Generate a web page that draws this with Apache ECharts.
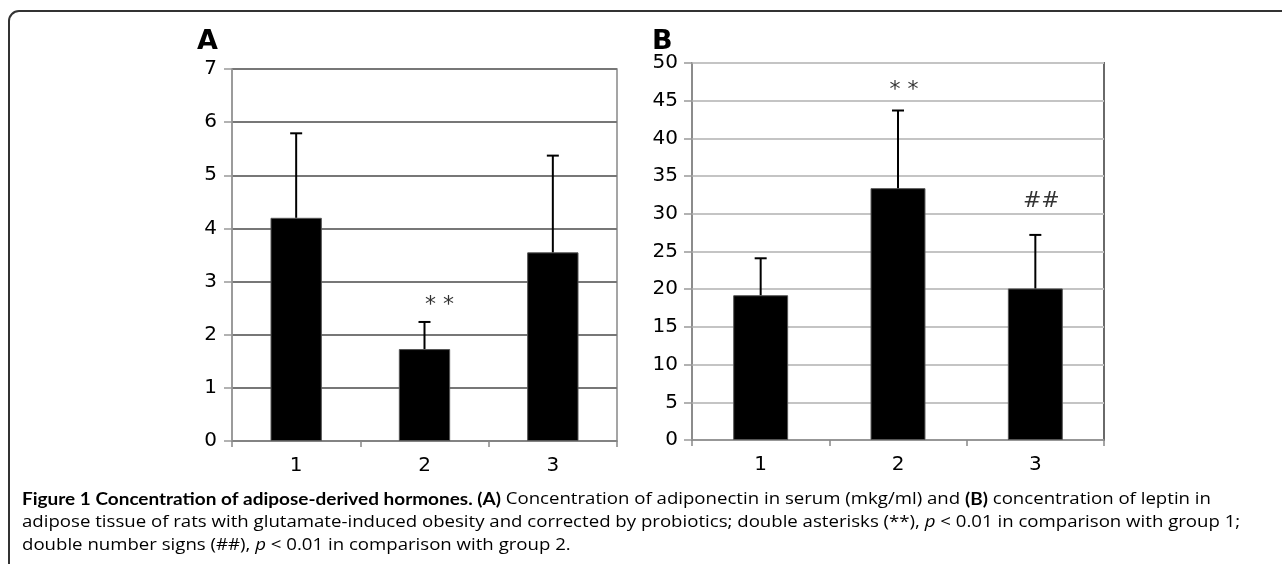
<!DOCTYPE html>
<html>
<head>
<meta charset="utf-8">
<script src="https://cdn.jsdelivr.net/npm/echarts@6/dist/echarts.min.js"></script>
<style>
  html, body { margin: 0; padding: 0; background: #fff; }
  #chart { width: 1282px; height: 564px; }
</style>
</head>
<body>
<div id="chart"></div>
<script>
// groups on the x axis
var groups = ['1', '2', '3'];

// panel A: adiponectin in serum (mkg/ml)
var meanA = [4.2, 1.73, 3.55];
var sdA = [1.59, 0.51, 1.82];
var ticksA = { min: 0, max: 7, interval: 1 };
var markTextA = ['', '* *', ''];
var markPosA = [null, 2.56, null];

// panel B: leptin in adipose tissue
var meanB = [19.2, 33.4, 20.1];
var sdB = [4.9, 10.3, 7.1];
var ticksB = { min: 0, max: 50, interval: 5 };
var markTextB = ['', '* *', '##'];
var markPosB = [null, 46.4, 31.6];

var tickFont = 'DejaVu Sans';
var chart = echarts.init(document.getElementById('chart'), null, { renderer: 'canvas' });

// upper error bar only, with a short cap
function errorSeries(idx, means, sds) {
  return {
    type: 'custom',
    xAxisIndex: idx, yAxisIndex: idx,
    z: 5,
    data: means.map(function (m, i) { return [i, m, m + sds[i]]; }),
    renderItem: function (params, api) {
      var lo = api.coord([api.value(0), api.value(1)]);
      var hi = api.coord([api.value(0), api.value(2)]);
      var cap = 6;
      var st = { stroke: '#000', lineWidth: 2 };
      return {
        type: 'group',
        children: [
          { type: 'line', shape: { x1: lo[0], y1: lo[1], x2: hi[0], y2: hi[1] }, style: st },
          { type: 'line', shape: { x1: hi[0] - cap, y1: hi[1], x2: hi[0] + cap, y2: hi[1] }, style: st }
        ]
      };
    }
  };
}

function markSeries(idx, texts, pos, dx) {
  return {
    type: 'scatter',
    xAxisIndex: idx, yAxisIndex: idx,
    symbolSize: 1,
    itemStyle: { color: 'rgba(0,0,0,0)' },
    silent: true,
    data: pos.map(function (p, i) { return p == null ? null : [i, p, texts[i]]; }).filter(function (d) { return d; }),
    label: {
      show: true, position: 'inside', offset: [dx, 0],
      formatter: function (p) { return p.value[2]; },
      color: '#000', fontFamily: tickFont, fontSize: 22
    }
  };
}

function xAxis(idx) {
  return {
    type: 'category', gridIndex: idx, data: groups,
    axisLine: { lineStyle: { color: '#888', width: 1.5 } },
    axisTick: { show: true, alignWithLabel: false, length: 6, lineStyle: { color: '#888', width: 1.5 } },
    axisLabel: { color: '#000', fontFamily: tickFont, fontSize: 20, margin: 15 }
  };
}

function yAxis(idx, t, gridColor, margin) {
  return {
    type: 'value', gridIndex: idx, min: t.min, max: t.max, interval: t.interval,
    axisLine: { show: true, lineStyle: { color: '#999', width: 1.5 } },
    axisTick: { show: true, length: 8, lineStyle: { color: '#999', width: 1.5 } },
    axisLabel: { color: '#000', fontFamily: tickFont, fontSize: 20, margin: margin },
    splitLine: { show: true, lineStyle: { color: gridColor, width: 2 } }
  };
}

var captionRich = {
  b: { fontFamily: 'Lato', fontWeight: 'bold', fontSize: 16.5, color: '#1a1a1a' },
  n: { fontFamily: 'Open Sans', fontSize: 16.2, color: '#333' },
  i: { fontFamily: 'Open Sans', fontStyle: 'italic', fontSize: 16.2, color: '#333' }
};
var capScale = 1.15;

chart.setOption({
  animation: false,
  backgroundColor: '#fff',
  grid: [
    { left: 232, right: 665, top: 69, bottom: 123, show: true, borderColor: '#888', borderWidth: 1.5 },
    { left: 692, right: 178, top: 63, bottom: 124, show: true, borderColor: '#6a6a6a', borderWidth: 2 }
  ],
  xAxis: [xAxis(0), xAxis(1)],
  yAxis: [yAxis(0, ticksA, '#777', 15), yAxis(1, ticksB, '#c4c4c4', 14)],
  series: [
    { type: 'bar', xAxisIndex: 0, yAxisIndex: 0, data: meanA, barWidth: '40%',
      itemStyle: { color: '#000', borderColor: '#555', borderWidth: 1 } },
    { type: 'bar', xAxisIndex: 1, yAxisIndex: 1, data: meanB, barWidth: '40%',
      itemStyle: { color: '#000', borderColor: '#555', borderWidth: 1 } },
    errorSeries(0, meanA, sdA),
    errorSeries(1, meanB, sdB),
    markSeries(0, markTextA, markPosA, 15),
    markSeries(1, markTextB, markPosB, 6)
  ],
  graphic: [
    { type: 'rect', shape: { x: 9, y: 11, width: 1400, height: 700, r: [10, 0, 0, 0] },
      style: { fill: 'none', stroke: '#333', lineWidth: 2 } },
    { type: 'text', left: 197, top: 28,
      style: { text: 'A', fontFamily: 'DejaVu Sans', fontWeight: 'bold', fontSize: 27, fill: '#000' } },
    { type: 'text', left: 652, top: 28,
      style: { text: 'B', fontFamily: 'DejaVu Sans', fontWeight: 'bold', fontSize: 27, fill: '#000' } },
    { type: 'text', x: 22, y: 491, scaleX: capScale,
      style: { text: '{b|Figure 1 Concentration of adipose-derived hormones. (A)}{n| Concentration of adiponectin in serum (mkg/ml) and }{b|(B)}{n| concentration of leptin in}', rich: captionRich } },
    { type: 'text', x: 22, y: 514, scaleX: capScale,
      style: { text: '{n|adipose tissue of rats with glutamate-induced obesity and corrected by probiotics; double asterisks (**), }{i|p}{n| < 0.01 in comparison with group 1;}', rich: captionRich } },
    { type: 'text', x: 22, y: 537, scaleX: capScale,
      style: { text: '{n|double number signs (##), }{i|p}{n| < 0.01 in comparison with group 2.}', rich: captionRich } }
  ]
});
</script>
</body>
</html>
